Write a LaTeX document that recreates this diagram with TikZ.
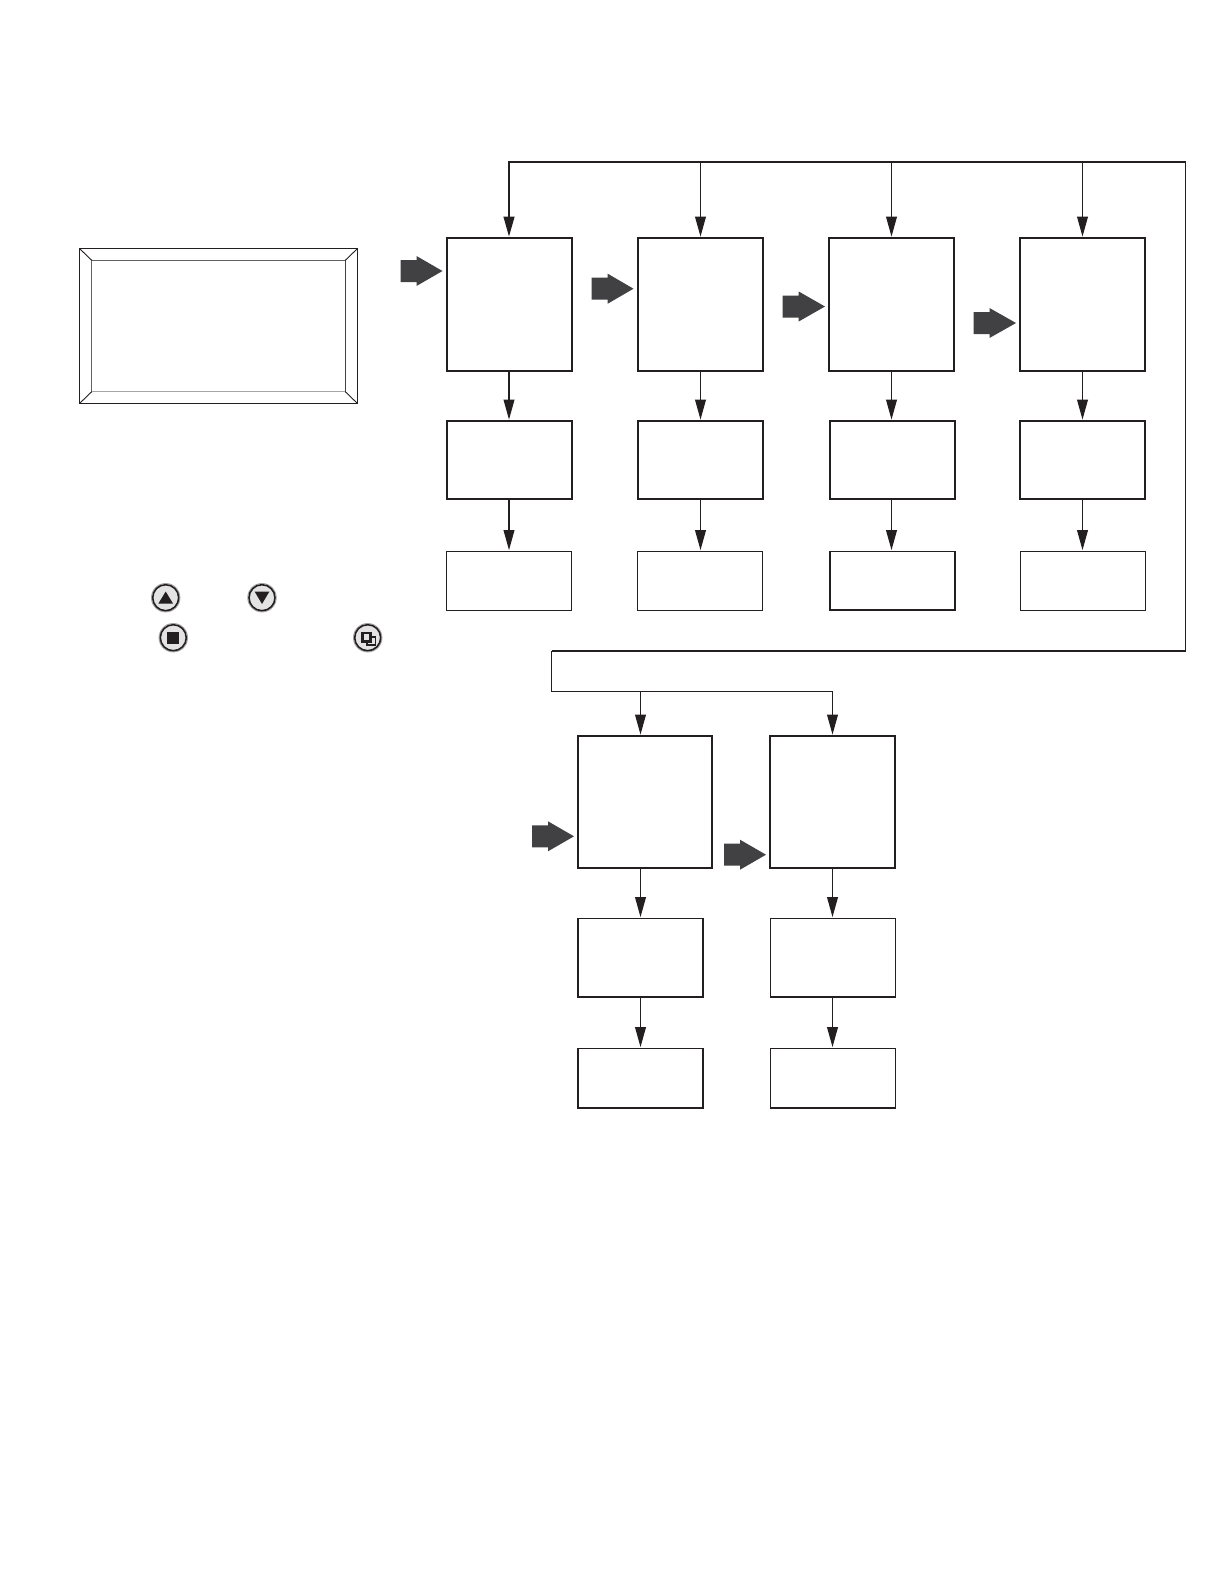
\documentclass[tikz,border=0pt]{standalone}
\usetikzlibrary{arrows.meta}
\definecolor{ink}{HTML}{231F20}
\definecolor{fat}{HTML}{414042}
\tikzset{
  x=0.5bp,y=-0.5bp,
  plainbox/.style={draw=ink,fill=white,inner sep=0pt,outer sep=0pt,rectangle},
  bigbox/.style={plainbox,line width=1.05bp},
  midbox/.style={plainbox,line width=0.85bp},
  lowbox/.style={plainbox,line width=0.55bp},
  wire/.style={draw=ink,line width=0.6bp},
  thickwire/.style={draw=ink,line width=0.85bp},
  flow/.style={-{Triangle[length=10bp,width=5.4bp]},shorten >=0.7bp},
  fatarrow/.style={fill=fat,draw=none},
  btnhalo/.style={circle,draw=black!35,line width=0.5bp,minimum size=14.2bp,inner sep=0pt,outer sep=0pt},
  btnring/.style={circle,draw=ink,line width=0.8bp,fill=black!11,minimum size=13bp,inner sep=0pt},
  glyph/.style={fill=ink,draw=none}
}
% style, name, top, left, bottom, right
\newcommand{\mybox}[6]{\node[#1,minimum width={(#6-#4)*0.5bp},minimum height={(#5-#3)*0.5bp},anchor=north west] (#2) at (#4,#3) {};}
\newcommand{\fatarr}[3]{\fill[fatarrow] (#1,#3-11) -- (#1+16,#3-11) -- (#1+16,#3-15) -- (#2,#3) -- (#1+16,#3+15) -- (#1+16,#3+11) -- (#1,#3+11) -- cycle;}
\begin{document}
\begin{tikzpicture}
\useasboundingbox (0,0) rectangle (1224,1584);
\fill[white] (0,0) rectangle (1224,1584);
% panel
\draw[ink,line width=0.75bp] (79.5,248.5) rectangle (357.5,403.5);
\draw[black!62,line width=0.55bp] (91.7,260.3) -- (345.3,260.3);
\draw[black!62,line width=0.55bp] (91.7,260.3) -- (91.7,391.7);
\draw[ink!85,line width=0.55bp] (345.3,260.3) -- (345.3,391.7);
\draw[black!35,line width=0.55bp] (91.7,391.7) -- (345.3,391.7);
\draw[ink,line width=0.45bp] (79.5,248.5) -- (91.7,260.3) (357.5,248.5) -- (345.3,260.3) (79.5,403.5) -- (91.7,391.7) (357.5,403.5) -- (345.3,391.7);
% row 1
\mybox{bigbox}{a1}{238}{447}{371}{572}
\mybox{bigbox}{a2}{238}{638}{371}{763}
\mybox{bigbox}{a3}{238}{829}{371}{954}
\mybox{bigbox}{a4}{238}{1020}{371}{1145}
\mybox{midbox}{b1}{421}{447}{499}{572}
\mybox{midbox}{b2}{421}{638}{499}{763}
\mybox{midbox}{b3}{421}{830}{499}{955}
\mybox{midbox}{b4}{421}{1020}{499}{1145}
\mybox{lowbox}{c1}{551.5}{446.5}{610.5}{571.5}
\mybox{lowbox}{c2}{551.5}{637.5}{610.5}{762.5}
\mybox{midbox}{c3}{551.5}{830}{610}{955}
\mybox{lowbox}{c4}{551.5}{1020.5}{610.5}{1145.5}
% row 2
\mybox{bigbox}{d1}{736}{578}{868}{712.3}
\mybox{bigbox}{d2}{736}{770}{868}{895}
\mybox{midbox}{e1}{918.5}{578}{997}{703.3}
\mybox{lowbox}{e2}{918.5}{770.5}{997}{895.5}
\mybox{midbox}{f1}{1048.5}{578}{1108}{703.3}
\mybox{midbox}{f2}{1048.5}{770.5}{1108}{895.5}
% bus
\coordinate (t1) at (509,162);
\coordinate (t2) at (700.5,162);
\coordinate (t3) at (891.5,162);
\coordinate (t4) at (1082.5,162);
\coordinate (tr) at (1185.5,162);
\coordinate (mr) at (1185.5,650.7);
\coordinate (ml) at (551.5,650.7);
\coordinate (bl) at (551.5,691.5);
\coordinate (b1x) at (640.5,691.5);
\coordinate (b2x) at (832.5,691.5);
\draw[thickwire,flow,line join=miter] (tr) -- (t1) -- (a1.north -| t1);
\draw[wire,flow] (t2) -- (a2.north -| t2);
\draw[wire,flow] (t3) -- (a3.north -| t3);
\draw[wire,flow] (t4) -- (a4.north -| t4);
\draw[wire,line join=miter] (tr) -- (mr);
\draw[thickwire,line join=miter] (mr) -- (ml);
\draw[wire,line join=miter] (ml) -- (bl) -- (b2x);
\draw[wire,flow] (b1x) -- (d1.north -| b1x);
\draw[wire,flow] (b2x) -- (d2.north -| b2x);
% vertical flows
\foreach \p/\q/\t in {a1/b1/t1,a2/b2/t2,a3/b3/t3,a4/b4/t4,b1/c1/t1,b2/c2/t2,b3/c3/t3,b4/c4/t4,d1/e1/b1x,d2/e2/b2x,e1/f1/b1x,e2/f2/b2x}{
  \draw[wire,flow] (\p.south -| \t) -- (\q.north -| \t);
}
% fat arrows
\fatarr{400.5}{442.5}{271}
\fatarr{591.7}{633.5}{288.7}
\fatarr{782.7}{825}{306.5}
\fatarr{973.5}{1016}{323}
\fatarr{532}{574}{836.3}
\fatarr{724}{766}{854.7}
% buttons
\node[btnhalo] (uph) at (165.7,597.7) {};
\node[btnhalo] (downh) at (262,597.7) {};
\node[btnhalo] (stoph) at (173.3,637.7) {};
\node[btnhalo] (copyh) at (367.7,637.7) {};
\node[btnring] (up) at (165.7,597.7) {};
\node[btnring] (down) at (262,597.7) {};
\node[btnring] (stopb) at (173.3,637.7) {};
\node[btnring] (copyb) at (367.7,637.7) {};
\fill[glyph] (158.4,603.5) -- (173,603.5) -- (165.7,591.5) -- cycle;
\fill[glyph] (254.7,591.7) -- (269.3,591.7) -- (262,604) -- cycle;
\fill[glyph] (167.3,631.7) rectangle (179.3,643.7);
\draw[ink,line width=0.8bp,fill=black!11] (367,637) rectangle (375.5,645);
\draw[ink,line width=1.1bp,fill=black!11] (362.5,633) rectangle (370.5,641.5);
\end{tikzpicture}
\end{document}
